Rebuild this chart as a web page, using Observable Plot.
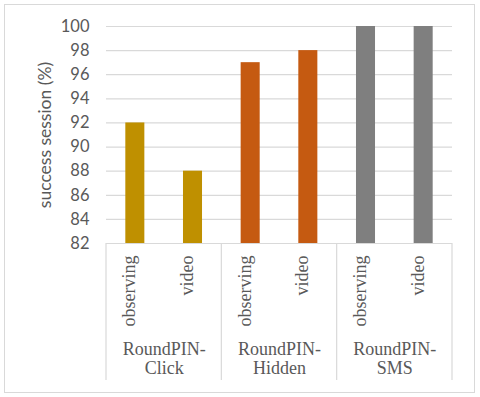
<!DOCTYPE html>
<html><head><meta charset="utf-8">
<script src="https://cdn.jsdelivr.net/npm/d3@7"></script>
<script src="https://cdn.jsdelivr.net/npm/@observablehq/plot@0.6"></script>
<style>
html,body{margin:0;padding:0;background:#fff;}
#frame{position:absolute;left:4px;top:4px;width:469px;height:387px;border:1px solid #d9d9d9;box-sizing:content-box;}
#frame svg{display:block;overflow:visible;}
#frame svg [aria-label="y-axis tick label"] text{font-family:Lato,"Open Sans",sans-serif;font-size:16.5px;fill:#595959;}
</style></head><body><div id="frame"></div>
<script>
const groups = ["RoundPIN-\nClick", "RoundPIN-\nHidden", "RoundPIN-\nSMS"];
const conditions = ["observing", "video"];
const clickValues = [92, 88];
const hiddenValues = [97, 98];
const smsValues = [100, 100];
const groupColors = ["#BF9000", "#C55A11", "#7F7F7F"];
const yTicks = [82, 84, 86, 88, 90, 92, 94, 96, 98, 100];
const yLabel = "success session (%)";

const seriesValues = [clickValues, hiddenValues, smsValues];
const data = [];
groups.forEach((g, gi) => conditions.forEach((c, ci) => data.push({
  group: g, cond: c, key: gi + "|" + c, value: seriesValues[gi][ci], color: groupColors[gi]
})));
const groupData = groups.map((g, gi) => ({group: g, key: gi + "|" + conditions[0]}));

const W = 469, H = 387, mL = 101, mR = 22, mT = 21, mB = 149;
const step = (W - mL - mR) / data.length;
const lineColor = "#d9d9d9", textColor = "#595959";

const plot = Plot.plot({
  width: W, height: H, marginLeft: mL, marginRight: mR, marginTop: mT, marginBottom: mB,
  style: {background: "transparent", overflow: "visible"},
  x: {type: "band", domain: data.map(d => d.key), paddingInner: 0.67, paddingOuter: 0.335, axis: null, round: false},
  y: {domain: [yTicks[0], yTicks[yTicks.length - 1]], ticks: yTicks, tickSize: 0, tickPadding: 17, label: null},
  color: {type: "identity"},
  marks: [
    Plot.ruleY(yTicks, {stroke: lineColor, strokeWidth: 1.2}),
    Plot.barY(data, {x: "key", y1: yTicks[0], y2: "value", fill: "color"}),
    Plot.text(data, {x: "key", text: "cond", frameAnchor: "bottom", rotate: -90, textAnchor: "end",
      dy: 12, fontFamily: "Liberation Serif", fontSize: 18, fill: textColor}),
    Plot.text(groupData, {x: "key", text: "group", dx: step / 2, frameAnchor: "bottom", dy: 97,
      lineAnchor: "top", lineHeight: 1.1, fontFamily: "Liberation Serif", fontSize: 18, fill: textColor}),
    Plot.text([yLabel], {text: d => d, frameAnchor: "left", textAnchor: "middle", rotate: -90, dx: -61,
      fontFamily: "Lato", fontSize: 17.5, fill: textColor})
  ]
});
document.getElementById("frame").appendChild(plot);

// group separators below the axis
const svg = d3.select(plot);
const innerW = W - mL - mR;
const sepX = d3.range(groups.length + 1).map(k => mL + k * innerW / groups.length);
svg.append("g").selectAll("line").data(sepX).join("line")
  .attr("x1", d => d).attr("x2", d => d)
  .attr("y1", H - mB).attr("y2", H - 12)
  .attr("stroke", lineColor).attr("stroke-width", 1.2);
</script></body></html>
